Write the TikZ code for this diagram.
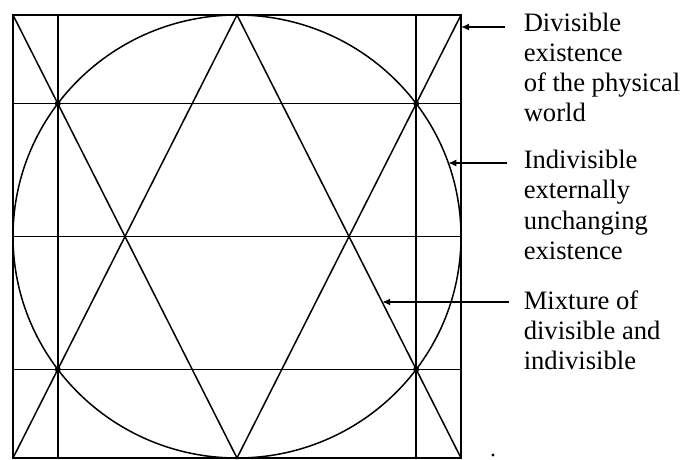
\documentclass[tikz,border=0pt]{standalone}
\usepackage{fontspec}
\setmainfont{Liberation Serif}
\usetikzlibrary{arrows.meta, calc}

\begin{document}
\begin{tikzpicture}[x=0.5pt, y=-0.5pt, line width=0.75pt,
      pointer/.style={-{Latex[length=4pt, width=3.5pt]}},
      every node/.style={align=left, anchor=base west, inner sep=0pt, font=\fontsize{13.3}{15}\selectfont}]
  \useasboundingbox (0,0) rectangle (683,459);
  \coordinate (tl) at (13,15);
  \coordinate (tr) at (461,15);
  \coordinate (bl) at (13,458);
  \coordinate (br) at (461,458);
  \coordinate (top) at ($(tl)!0.5!(tr)$);
  \coordinate (bot) at ($(bl)!0.5!(br)$);
  \coordinate (mid) at ($(top)!0.5!(bot)$);
  \coordinate (p1) at ($(tl)!0.2!(bot)$);
  \coordinate (p2) at ($(tr)!0.2!(bot)$);
  \coordinate (p3) at ($(bl)!0.2!(top)$);
  \coordinate (p4) at ($(br)!0.2!(top)$);

  \draw (tl) rectangle (br);
  \draw (mid) ellipse [x radius=224, y radius=221.5];
  \draw (bl) -- (top) -- (br);
  \draw (tl) -- (bot) -- (tr);
  \draw (p1 |- tl) -- (p1 |- bl);
  \draw (p2 |- tl) -- (p2 |- bl);
  \draw (tl |- p1) -- (tr |- p1);
  \draw (tl |- p3) -- (tr |- p3);
  \draw (tl |- mid) -- (tr |- mid);
  \foreach \p in {p1,p2,p3,p4}
    \fill (\p) circle [radius=3];

  \node (divisible) at (523,122) {Divisible\\existence\\of the physical\\world};
  \node (indivisible) at (523,259) {Indivisible\\externally\\unchanging\\existence};
  \node (mixture) at (523,369) {Mixture of\\divisible and\\indivisible};

  \coordinate (a1) at (505,27);
  \coordinate (a2) at (507,163);
  \coordinate (a3) at (509,302);
  \coordinate (e2) at ($(mid)+(-19.4:224 and 221.5)$);
  \coordinate (e3) at ($(top)!0.648!(br)$);
  \draw[pointer] (a1) -- (tr |- a1);
  \draw[pointer] (a2) -- (a2 -| e2);
  \draw[pointer] (a3) -- (a3 -| e3);
  \fill (493,455) circle [radius=1.6];
\end{tikzpicture}
\end{document}
